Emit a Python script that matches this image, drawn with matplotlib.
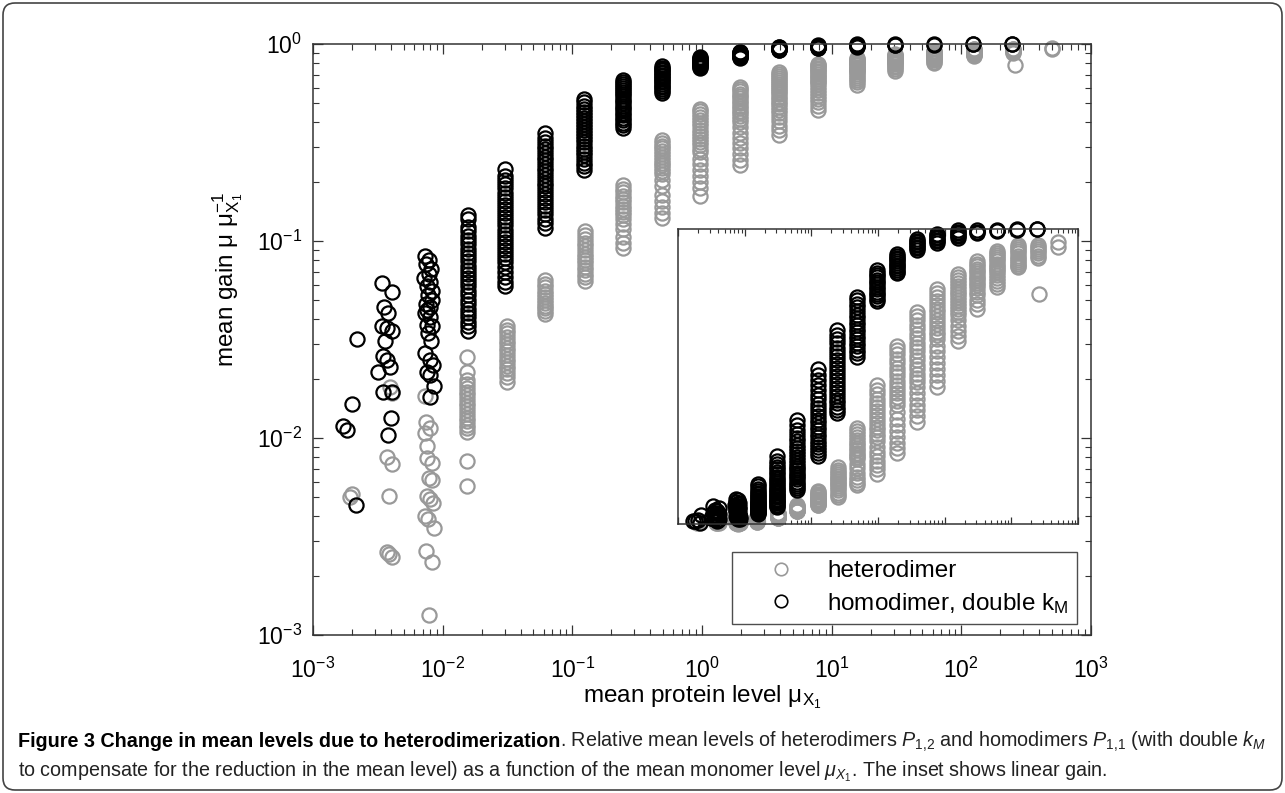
import numpy as np
import matplotlib
matplotlib.use('Agg')
import matplotlib.pyplot as plt
from matplotlib.lines import Line2D
from matplotlib.patches import FancyBboxPatch
from matplotlib.ticker import NullFormatter

plt.rcParams['font.family'] = ['Liberation Sans', 'DejaVu Sans']
plt.rcParams['mathtext.fontset'] = 'custom'
plt.rcParams['mathtext.rm'] = 'Liberation Sans'
plt.rcParams['mathtext.it'] = 'Liberation Sans:italic'
plt.rcParams['mathtext.bf'] = 'Liberation Sans:bold'

# Columns sit at mean protein levels ~2^k, k = -9 .. 9
# Heterodimer (grey), x per column (single value or one per point), y per column
het_x = [
    [0.00193, 0.00200],
    [0.00372, 0.00406, 0.00385, 0.00372, 0.00385, 0.00406, 0.00392, 0.00406],
    [0.00731, 0.00744, 0.00798, 0.00731, 0.00757, 0.00757, 0.00827, 0.00784, 0.00827,
     0.00757, 0.00798, 0.00841, 0.00731, 0.00771, 0.00857, 0.00744, 0.00827, 0.00784],
    0.0155, 0.0313, 0.0620, 0.125, 0.247, 0.49, 0.97, 1.95, 3.9, 7.8, 15.6, 31.0, 62.0, 125.0,
    [250.0, 250.0, 250.0, 250.0, 250.0, 250.0, 250.0, 258.0],
    500.0,
]
het_y = [
    [0.0050, 0.0052],
    [0.0080, 0.0074, 0.0051, 0.00264, 0.00257, 0.00249, 0.0182, 0.0170],
    [0.0163, 0.0121, 0.0113, 0.0106, 0.0091, 0.0079, 0.0075, 0.0063, 0.0061,
     0.0051, 0.0049, 0.0047, 0.0040, 0.0039, 0.0035, 0.00267, 0.00235, 0.00126],
    [0.0258, 0.0216, 0.0196, 0.0188, 0.0180, 0.0172, 0.0165, 0.0158, 0.0151, 0.0145,
     0.0139, 0.0133, 0.0127, 0.0122, 0.0117, 0.0112, 0.0107, 0.0076, 0.0057],
    [0.0372, 0.0355, 0.0340, 0.0326, 0.0312, 0.0299, 0.0287, 0.0275, 0.0264, 0.0253,
     0.0243, 0.0233, 0.0223, 0.0213, 0.0203, 0.0193],
    [0.0632, 0.0605, 0.0582, 0.0560, 0.0540, 0.0521, 0.0503, 0.0486, 0.0470, 0.0455,
     0.0440, 0.0426],
    [0.112, 0.107, 0.102, 0.098, 0.094, 0.090, 0.086, 0.083, 0.080, 0.077, 0.074,
     0.071, 0.068, 0.066, 0.063],
    [0.192, 0.184, 0.177, 0.170, 0.163, 0.157, 0.151, 0.145, 0.140, 0.135, 0.130,
     0.122, 0.115, 0.105, 0.098, 0.092],
    [0.325, 0.315, 0.305, 0.295, 0.285, 0.276, 0.267, 0.258, 0.250, 0.242, 0.234,
     0.226, 0.219, 0.205, 0.190, 0.172, 0.160, 0.148, 0.139, 0.131],
    [0.470, 0.455, 0.440, 0.425, 0.410, 0.396, 0.382, 0.368, 0.355, 0.342, 0.330,
     0.318, 0.306, 0.294, 0.283, 0.262, 0.245, 0.230, 0.215, 0.200, 0.186, 0.170],
    [0.605, 0.590, 0.575, 0.560, 0.545, 0.530, 0.515, 0.500, 0.486, 0.472, 0.458,
     0.444, 0.430, 0.417, 0.404, 0.380, 0.355, 0.335, 0.315, 0.295, 0.275, 0.258, 0.242],
    [0.720, 0.705, 0.690, 0.675, 0.660, 0.645, 0.630, 0.615, 0.600, 0.585, 0.570,
     0.555, 0.540, 0.525, 0.510, 0.495, 0.480, 0.465, 0.445, 0.425, 0.405, 0.385, 0.365, 0.347],
    [0.795, 0.782, 0.769, 0.756, 0.743, 0.730, 0.717, 0.704, 0.691, 0.678, 0.665,
     0.652, 0.639, 0.626, 0.605, 0.585, 0.565, 0.545, 0.525, 0.505, 0.485, 0.465],
    [0.848, 0.838, 0.828, 0.818, 0.808, 0.798, 0.788, 0.778, 0.768, 0.758, 0.748,
     0.738, 0.728, 0.718, 0.708, 0.690, 0.672, 0.655, 0.638, 0.622],
    [0.890, 0.882, 0.874, 0.866, 0.858, 0.850, 0.842, 0.834, 0.826, 0.818, 0.810,
     0.800, 0.788, 0.775, 0.760, 0.745, 0.730],
    [0.925, 0.918, 0.911, 0.904, 0.897, 0.890, 0.883, 0.876, 0.869, 0.862, 0.855,
     0.845, 0.835, 0.825, 0.815, 0.805],
    [0.945, 0.938, 0.931, 0.924, 0.917, 0.910, 0.903, 0.896, 0.889, 0.882, 0.876, 0.870],
    [0.945, 0.938, 0.931, 0.924, 0.917, 0.910, 0.903, 0.780],
    [0.955, 0.940],
]

# Homodimer with double k_M (black)
hom_x = [
    [0.00170, 0.00183, 0.00200, 0.00218, 0.00214],
    [0.00340, 0.00406, 0.00353, 0.00379, 0.00340, 0.00372, 0.00406, 0.00359,
     0.00347, 0.00372, 0.00392, 0.00317, 0.00347, 0.00406, 0.00399, 0.00379],
    [0.00731, 0.00784, 0.00744, 0.00812, 0.00784, 0.00718, 0.00798, 0.00757, 0.00827,
     0.00771, 0.00827, 0.00744, 0.00798, 0.00757, 0.00731, 0.00798, 0.00757, 0.00827,
     0.00771, 0.00812, 0.00731, 0.00798, 0.00841, 0.00757, 0.00798, 0.00857, 0.00798],
    0.0156, 0.0305, 0.0615, 0.124, 0.245, 0.49, 0.97, 1.95, 3.9, 7.8, 15.6, 31.0, 62.0,
    123.0, 245.0,
]
hom_y = [
    [0.0115, 0.0110, 0.0149, 0.0318, 0.00457],
    [0.061, 0.055, 0.046, 0.043, 0.037, 0.036, 0.035, 0.031, 0.026, 0.025, 0.023,
     0.0216, 0.0171, 0.0171, 0.0126, 0.0104],
    [0.084, 0.080, 0.076, 0.072, 0.068, 0.065, 0.062, 0.059, 0.056, 0.053, 0.050,
     0.048, 0.046, 0.0446, 0.043, 0.041, 0.0375, 0.037, 0.034, 0.031, 0.027, 0.0249,
     0.0235, 0.0216, 0.0209, 0.0184, 0.0161],
    [0.136, 0.130, 0.118, 0.112, 0.106, 0.101, 0.096, 0.091, 0.087, 0.083, 0.079,
     0.075, 0.071, 0.068, 0.065, 0.062, 0.059, 0.056, 0.053, 0.050, 0.048, 0.045,
     0.043, 0.041, 0.039, 0.037, 0.035],
    [0.232, 0.215, 0.204, 0.194, 0.185, 0.176, 0.168, 0.160, 0.152, 0.145, 0.138,
     0.132, 0.126, 0.120, 0.114, 0.109, 0.104, 0.099, 0.094, 0.090, 0.086, 0.082,
     0.078, 0.074, 0.070, 0.066, 0.062, 0.059],
    [0.353, 0.335, 0.318, 0.305, 0.292, 0.280, 0.268, 0.257, 0.246, 0.236, 0.226,
     0.216, 0.207, 0.198, 0.190, 0.182, 0.174, 0.166, 0.158, 0.151, 0.144, 0.137,
     0.130, 0.123, 0.116],
    [0.526, 0.505, 0.487, 0.470, 0.454, 0.438, 0.423, 0.408, 0.394, 0.380, 0.367,
     0.354, 0.341, 0.329, 0.317, 0.305, 0.294, 0.283, 0.272, 0.261, 0.250, 0.240, 0.229],
    [0.657, 0.642, 0.627, 0.612, 0.598, 0.584, 0.570, 0.556, 0.542, 0.528, 0.514,
     0.500, 0.487, 0.474, 0.461, 0.448, 0.435, 0.422, 0.410, 0.398, 0.386, 0.375],
    [0.770, 0.758, 0.746, 0.734, 0.722, 0.710, 0.698, 0.686, 0.674, 0.662, 0.650,
     0.638, 0.626, 0.614, 0.602, 0.590, 0.578, 0.566],
    [0.860, 0.852, 0.844, 0.836, 0.828, 0.820, 0.812, 0.804, 0.796, 0.788, 0.780,
     0.772, 0.764, 0.756],
    [0.915, 0.909, 0.903, 0.897, 0.891, 0.885, 0.879, 0.873, 0.867, 0.861, 0.855, 0.850],
    [0.965, 0.960, 0.955, 0.950, 0.945, 0.940, 0.935, 0.930],
    [0.983, 0.978, 0.973, 0.968, 0.963, 0.958, 0.953],
    [0.995, 0.990, 0.985, 0.980, 0.975, 0.970],
    [0.995, 0.990, 0.985],
    [0.998, 0.994],
    [0.999, 0.997],
    [1.000, 0.999],
]

x_ticks = [1e-3, 1e-2, 1e-1, 1e0, 1e1, 1e2, 1e3]
y_ticks = [1e-3, 1e-2, 1e-1, 1e0]

GREY = '#999999'
BLACK = '#000000'
W, H = 1285, 793


def draw_columns(a, xs, ys, color, ms):
    for xc, yc in zip(xs, ys):
        yc = np.asarray(yc, float)
        xc = np.broadcast_to(np.asarray(xc, float), yc.shape)
        a.plot(xc, yc, 'o', ms=ms, mfc='none', mec=color, mew=1.6,
               linestyle='none', clip_on=False)


def style_box(a):
    for s in a.spines.values():
        s.set_color('#333333')
        s.set_linewidth(1.1)
    a.tick_params(which='both', direction='in', top=True, right=True, colors='#333333')
    a.tick_params(which='major', length=7, width=0.9)
    a.tick_params(which='minor', length=4, width=0.8)


fig = plt.figure(figsize=(W / 100, H / 100), dpi=100)

# main log-log axes
ax = fig.add_axes([313 / W, 1 - 635 / H, 778 / W, 591 / H])
ax.set_xscale('log')
ax.set_yscale('log')
draw_columns(ax, het_x, het_y, GREY, 10.2)
draw_columns(ax, hom_x, hom_y, BLACK, 10.2)
ax.set_xlim(1e-3, 1e3)
ax.set_ylim(1e-3, 1e0)
ax.set_xticks(x_ticks)
ax.set_yticks(y_ticks)
ax.xaxis.set_minor_formatter(NullFormatter())
ax.yaxis.set_minor_formatter(NullFormatter())
style_box(ax)
ax.tick_params(which='major', labelsize=16.5, labelcolor='black')
ax.tick_params(axis='x', which='major', pad=16)
ax.tick_params(axis='y', which='major', pad=8)
ax.set_xlabel('mean protein level μ$_{\\mathrm{X}_1}$', fontsize=17.5, labelpad=1)
ax.set_ylabel('mean gain μ μ$_{\\mathrm{X}_1}^{-1}$', fontsize=17.5)
ax.yaxis.set_label_coords(-0.087, 0.602)

handles = [
    Line2D([], [], marker='o', ms=9, mfc='none', mec=GREY, mew=1.2, linestyle='none'),
    Line2D([], [], marker='o', ms=9, mfc='none', mec=BLACK, mew=1.2, linestyle='none'),
]
leg = ax.legend(handles, ['heterodimer', r'homodimer, double k$_{\mathrm{M}}$'],
                loc='lower right', bbox_to_anchor=(0.982, 0.0186), borderaxespad=0,
                fontsize=17.5, frameon=True, fancybox=False, handlelength=3.3,
                handletextpad=0.25, borderpad=0.35, labelspacing=0.35)
leg.get_frame().set_edgecolor('#222222')
leg.get_frame().set_linewidth(1.0)

# inset with linear gain
axi = fig.add_axes([678 / W, 1 - 524 / H, 400 / W, 295 / H])
axi.set_facecolor('white')
axi.set_xscale('log')
draw_columns(axi, het_x, het_y, GREY, 10.2)
draw_columns(axi, hom_x, hom_y, BLACK, 10.2)
axi.set_xlim(1e-3, 1e3)
axi.set_ylim(0, 1)
axi.set_xticks(x_ticks)
axi.set_yticks([])
axi.xaxis.set_major_formatter(NullFormatter())
axi.xaxis.set_minor_formatter(NullFormatter())
style_box(axi)
axi.tick_params(which='both', left=False, right=False)
axi.tick_params(which='major', length=5)
axi.tick_params(which='minor', length=3)

# rounded frame around figure + caption
frame = FancyBboxPatch((0.03, 0.03), W / 100 - 0.06, H / 100 - 0.06,
                       boxstyle='round,pad=0,rounding_size=0.12',
                       transform=fig.dpi_scale_trans, fill=False,
                       edgecolor='#444444', linewidth=1.2)
fig.add_artist(frame)

cap_font = ['Liberation Sans', 'DejaVu Sans']
y1 = 1 - 747 / H
y2 = 1 - 776 / H
t1 = fig.text(18 / W, y1, 'Figure 3 Change in mean levels due to heterodimerization',
              fontsize=14.2, fontweight='bold', family=cap_font, va='baseline', ha='left')
fig.canvas.draw()
bb = t1.get_window_extent()
fig.text(bb.x1 / W, y1,
         r'. Relative mean levels of heterodimers $P_{1{,}2}$ and homodimers $P_{1{,}1}$ '
         r'(with double $k_M$',
         fontsize=14.2, family=cap_font, va='baseline', ha='left', color='#222222')
fig.text(18 / W, y2,
         r'to compensate for the reduction in the mean level) as a function of the mean '
         r'monomer level $\mu_{X_1}$. The inset shows linear gain.',
         fontsize=14.2, family=cap_font, va='baseline', ha='left', color='#222222')

fig.savefig('out.png', dpi=100)
